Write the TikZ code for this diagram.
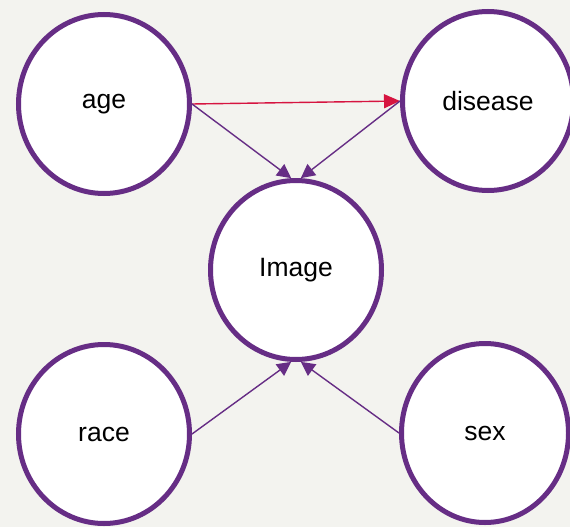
\documentclass[tikz,border=0pt]{standalone}
\usepackage{fontspec}
\setmainfont{Liberation Sans}
\usetikzlibrary{shapes.geometric,arrows.meta}
\definecolor{bgcol}{HTML}{F3F3EF}
\definecolor{varcol}{HTML}{662D85}
\definecolor{causecol}{HTML}{D61440}
\begin{document}
\begin{tikzpicture}[x=1pt,y=-1pt,
  var/.style={ellipse,draw=varcol,fill=white,line width=5pt,inner sep=0pt,
    minimum width=171pt,minimum height=179pt,
    font=\fontsize{26.5}{32}\selectfont,text=black},
  link/.style={draw=varcol,line width=1.4pt,-{Triangle[length=14pt,width=14pt]}},
  cause/.style={draw=causecol,line width=1.4pt,-{Triangle[length=16pt,width=14pt]}}]
  % canvas
  \fill[bgcol] (0,0) rectangle (570,527);
  \useasboundingbox (0,0) rectangle (570,527);
  % variables
  \node[var] (age) at (104,104) {age};
  \node[var] (dis) at (488,101) {disease};
  \node[var] (img) at (296,270) {Image};
  \node[var] (race) at (104,434) {race};
  \node[var,minimum width=167pt] (sex) at (485,433) {sex};
  % dependencies
  \draw[cause] (age.east) -- (dis.west);
  \draw[link] (age.east) -- (img.93);
  \draw[link] (dis.west) -- (img.87);
  \draw[link] (race.east) -- (img.267);
  \draw[link] (sex.west) -- (img.273);
\end{tikzpicture}
\end{document}
